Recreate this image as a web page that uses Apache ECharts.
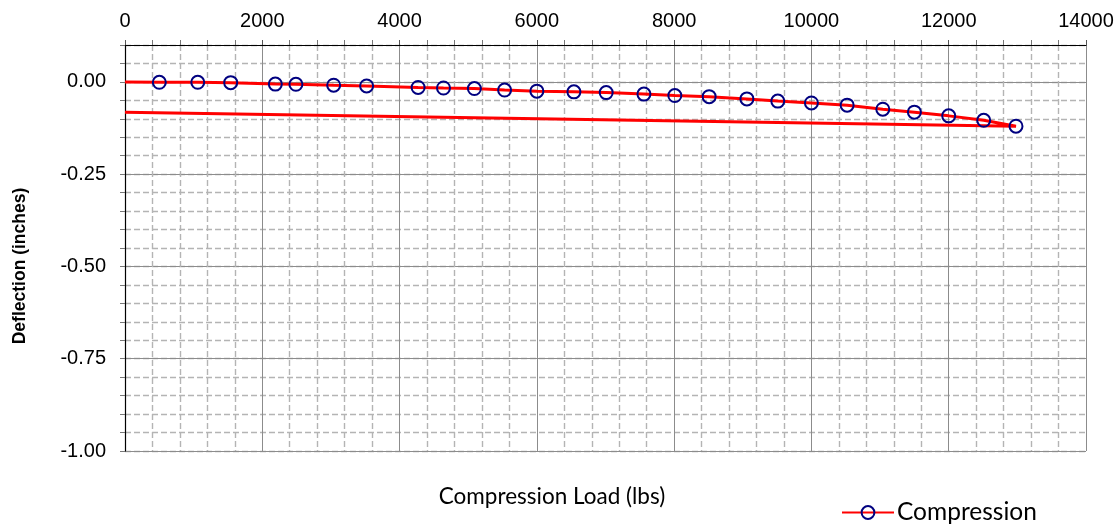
<!DOCTYPE html>
<html>
<head>
<meta charset="utf-8">
<title>Compression Load vs Deflection</title>
<script src="https://cdn.jsdelivr.net/npm/echarts@6/dist/echarts.min.js"></script>
<style>
  html, body { margin: 0; padding: 0; background: #ffffff; }
  #chart { width: 1119px; height: 527px; }
</style>
</head>
<body>
<div id="chart"></div>
<script>
// Compression test: load (lbs) and measured deflection (inches).
// First point is the unloaded start, last point is the return to zero load.
const loads = [0, 500, 1060, 1540, 2190, 2490, 3040, 3520, 4270, 4640, 5090, 5530, 6000,
  6540, 7010, 7560, 8010, 8510, 9060, 9510, 10000, 10520, 11040, 11500, 12000, 12510, 12980, 0];
const deflections = [0, -0.001, -0.001, -0.002, -0.006, -0.0065, -0.009, -0.011, -0.015,
  -0.0165, -0.018, -0.022, -0.025, -0.027, -0.029, -0.033, -0.037, -0.040, -0.046, -0.052,
  -0.057, -0.063, -0.074, -0.082, -0.092, -0.104, -0.120, -0.082];
// Points drawn without a marker (start and unloaded end)
const plainPoints = [0, loads.length - 1];

const seriesName = 'Compression';
const xTitle = 'Compression Load (lbs)';
const yTitle = 'Deflection (inches)';

const xMin = 0, xMax = 14000, xStep = 2000;
const yMin = -1, yMax = 0.1, yMajor = 0.25, yMinor = 0.05;

const points = loads.map((x, i) => {
  const item = { value: [x, deflections[i]] };
  if (plainPoints.includes(i)) item.symbol = 'none';
  return item;
});

const majorGrid = { show: true, lineStyle: { color: '#8c8c8c', width: 1, type: 'solid' } };
const minorGrid = { show: true, lineStyle: { color: '#b4b4b4', width: 1.4, type: [6, 3] } };
const tickFont = { fontFamily: 'Liberation Sans, Arial, sans-serif', fontSize: 20, color: '#000' };

const chart = echarts.init(document.getElementById('chart'), null, { renderer: 'canvas' });
chart.setOption({
  animation: false,
  backgroundColor: '#ffffff',
  grid: { left: 125, right: 33, top: 45, bottom: 76, containLabel: false },
  xAxis: [{
    type: 'value',
    position: 'top',
    min: xMin, max: xMax, interval: xStep,
    axisLine: { show: true, onZero: false, lineStyle: { color: '#000', width: 1.2 } },
    axisTick: { show: true, length: 5, lineStyle: { color: '#555' } },
    minorTick: { show: true, splitNumber: 5, length: 5, lineStyle: { color: '#777' } },
    axisLabel: Object.assign({ margin: 14, formatter: v => String(v) }, tickFont),
    splitLine: majorGrid,
    minorSplitLine: minorGrid
  }],
  yAxis: [{
    // fine grid every 0.05 in
    type: 'value',
    position: 'left',
    min: yMin, max: yMax, interval: yMinor,
    axisLine: { show: true, onZero: false, lineStyle: { color: '#000', width: 1.2 } },
    axisTick: { show: true, length: 5, lineStyle: { color: '#777' } },
    axisLabel: { show: false },
    splitLine: minorGrid
  }, {
    // labelled grid every 0.25 in
    type: 'value',
    position: 'left',
    min: yMin, max: yMax, interval: yMajor,
    axisLine: { show: false, onZero: false },
    axisTick: { show: false },
    axisLabel: Object.assign({
      margin: 19,
      formatter: v => (v > 0.001 ? '' : v.toFixed(2))
    }, tickFont),
    splitLine: majorGrid
  }],
  legend: {
    left: 836, top: 495,
    itemWidth: 52, itemHeight: 16, itemGap: 6,
    textStyle: { fontFamily: 'Lato, "Open Sans", sans-serif', fontSize: 24.5, color: '#000', padding: [0, 0, 0, -2] },
    data: [seriesName]
  },
  graphic: [{
    type: 'text',
    x: 552, y: 497,
    style: {
      text: xTitle,
      font: '22.5px Lato, "Open Sans", sans-serif',
      fill: '#000',
      align: 'center', verticalAlign: 'middle'
    }
  }, {
    type: 'text',
    x: 20, y: 266,
    rotation: Math.PI / 2,
    style: {
      text: yTitle,
      font: 'bold 17.5px "Liberation Sans", Arial, sans-serif',
      fill: '#000',
      align: 'center', verticalAlign: 'middle'
    }
  }],
  series: [{
    name: seriesName,
    type: 'line',
    xAxisIndex: 0,
    yAxisIndex: 0,
    data: points,
    symbol: 'circle',
    symbolSize: 13,
    showAllSymbol: true,
    lineStyle: { color: '#ff0000', width: 3 },
    itemStyle: { color: 'rgba(255,255,255,0)', borderColor: '#000080', borderWidth: 2 },
    emphasis: { disabled: true }
  }]
});
</script>
</body>
</html>
